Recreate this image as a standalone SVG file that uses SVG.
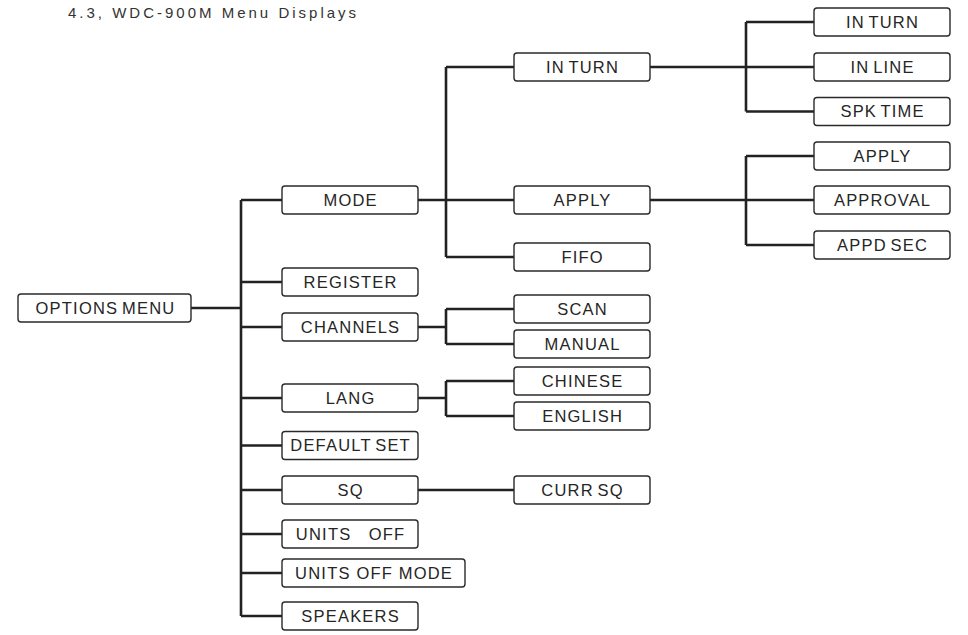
<svg xmlns="http://www.w3.org/2000/svg" width="968" height="635" viewBox="0 0 968 635">
<style>
.b{fill:#fff;stroke:#2a2a2a;stroke-width:1.4}
.t{font-family:"Liberation Sans",Arial,sans-serif;font-size:16.5px;letter-spacing:1.2px;fill:#252525;text-anchor:middle}
.n{word-spacing:-2px}
.c{fill:none;stroke:#222;stroke-width:2.6}
.title{font-family:"Liberation Sans",Arial,sans-serif;font-size:15px;letter-spacing:3px;fill:#333}
</style>
<rect width="968" height="635" fill="#fff"/>
<text class="title" x="68" y="18">4.3, WDC-900M Menu Displays</text>
<g id="connectors">
<path class="c" d="M191,308H241M241,200V616M241,200H282M241,282H282M241,327H282M241,398H282M241,445.5H282M241,490H282M241,534H282M241,573H282M241,616H282"/>
<path class="c" d="M418,200H514M446,67V257M446,67H514M446,257H514"/>
<path class="c" d="M650,67H814M746,22V111.5M746,22H814M746,111.5H814"/>
<path class="c" d="M650,200H814M746,156V245M746,156H814M746,245H814"/>
<path class="c" d="M418,327H446M446,309V344M446,309H514M446,344H514"/>
<path class="c" d="M418,398H446M446,381V416M446,381H514M446,416H514"/>
<path class="c" d="M418,490H514"/>
</g>
<g id="options-menu"><rect class="b" x="18" y="294" width="173" height="28" rx="3"/><text class="t n" x="105.5" y="313.9">OPTIONS MENU</text></g>
<g id="mode"><rect class="b" x="282" y="186" width="136" height="28" rx="3"/><text class="t" x="350.6" y="205.9">MODE</text></g>
<g id="register"><rect class="b" x="282" y="268" width="136" height="28" rx="3"/><text class="t" x="350.6" y="287.9">REGISTER</text></g>
<g id="channels"><rect class="b" x="282" y="313" width="136" height="28" rx="3"/><text class="t" x="350.6" y="332.9">CHANNELS</text></g>
<g id="lang"><rect class="b" x="282" y="384" width="136" height="28" rx="3"/><text class="t" x="350.6" y="403.9">LANG</text></g>
<g id="default-set"><rect class="b" x="282" y="431.5" width="136" height="28" rx="3"/><text class="t n" x="350.6" y="451.4">DEFAULT SET</text></g>
<g id="sq"><rect class="b" x="282" y="476" width="136" height="28" rx="3"/><text class="t" x="350.6" y="495.9">SQ</text></g>
<g id="units-off"><rect class="b" x="282" y="520" width="136" height="28" rx="3"/><text class="t" x="350.6" y="539.9" xml:space="preserve">UNITS   OFF</text></g>
<g id="units-off-mode"><rect class="b" x="282" y="559" width="183" height="28" rx="3"/><text class="t" x="374.1" y="578.9">UNITS OFF MODE</text></g>
<g id="speakers"><rect class="b" x="282" y="602" width="136" height="28" rx="3"/><text class="t" x="350.6" y="621.9">SPEAKERS</text></g>
<g id="mode-in-turn"><rect class="b" x="514" y="53" width="136" height="28" rx="3"/><text class="t n" x="582.6" y="72.9">IN TURN</text></g>
<g id="mode-apply"><rect class="b" x="514" y="186" width="136" height="28" rx="3"/><text class="t" x="582.6" y="205.9">APPLY</text></g>
<g id="fifo"><rect class="b" x="514" y="243" width="136" height="28" rx="3"/><text class="t" x="582.6" y="262.9">FIFO</text></g>
<g id="scan"><rect class="b" x="514" y="295" width="136" height="28" rx="3"/><text class="t" x="582.6" y="314.9">SCAN</text></g>
<g id="manual"><rect class="b" x="514" y="330" width="136" height="28" rx="3"/><text class="t" x="582.6" y="349.9">MANUAL</text></g>
<g id="chinese"><rect class="b" x="514" y="367" width="136" height="28" rx="3"/><text class="t" x="582.6" y="386.9">CHINESE</text></g>
<g id="english"><rect class="b" x="514" y="402" width="136" height="28" rx="3"/><text class="t" x="582.6" y="421.9">ENGLISH</text></g>
<g id="curr-sq"><rect class="b" x="514" y="476" width="136" height="28" rx="3"/><text class="t n" x="582.6" y="495.9">CURR SQ</text></g>
<g id="in-turn"><rect class="b" x="814" y="8" width="136" height="28" rx="3"/><text class="t n" x="882.6" y="27.9">IN TURN</text></g>
<g id="in-line"><rect class="b" x="814" y="53" width="136" height="28" rx="3"/><text class="t n" x="882.6" y="72.9">IN LINE</text></g>
<g id="spk-time"><rect class="b" x="814" y="97.5" width="136" height="28" rx="3"/><text class="t n" x="882.6" y="117.4">SPK TIME</text></g>
<g id="apply"><rect class="b" x="814" y="142" width="136" height="28" rx="3"/><text class="t" x="882.6" y="161.9">APPLY</text></g>
<g id="approval"><rect class="b" x="814" y="186" width="136" height="28" rx="3"/><text class="t" x="882.6" y="205.9">APPROVAL</text></g>
<g id="appd-sec"><rect class="b" x="814" y="231" width="136" height="28" rx="3"/><text class="t n" x="882.6" y="250.9">APPD SEC</text></g>
</svg>
